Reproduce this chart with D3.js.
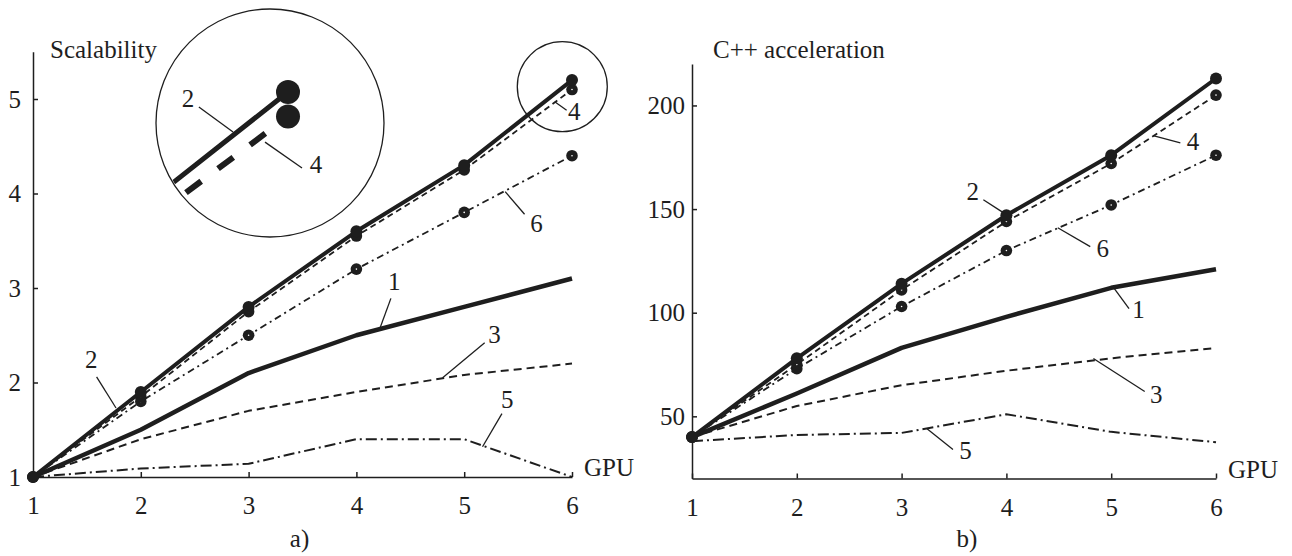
<!DOCTYPE html>
<html>
<head>
<meta charset="utf-8">
<script src="https://cdn.jsdelivr.net/npm/d3@7"></script>
<style>
body { margin:0; background:#fff; }
svg text { font-family: "Liberation Serif", serif; fill:#1e1e1e; }
</style>
</head>
<body>
<svg id="fig" width="1292" height="556"></svg>
<script>
// GPU count on x for both panels
var gpu = [1, 2, 3, 4, 5, 6];

// a) scalability, curves 1..6
var scal1 = [1, 1.5, 2.1, 2.5, 2.8, 3.1];
var scal2 = [1, 1.9, 2.8, 3.6, 4.3, 5.2];
var scal3 = [1, 1.4, 1.7, 1.9, 2.08, 2.2];
var scal4 = [1, 1.85, 2.75, 3.55, 4.25, 5.1];
var scal5 = [1, 1.09, 1.14, 1.4, 1.4, 1.0];
var scal6 = [1, 1.8, 2.5, 3.2, 3.8, 4.4];
var scalTicks = [1, 2, 3, 4, 5];

// b) acceleration vs C++, curves 1..6
var acc1 = [40, 61, 83, 98, 112, 121];
var acc2 = [40, 78, 114, 147, 176, 213];
var acc3 = [40, 55, 65, 72, 78, 83];
var acc4 = [40, 75, 111, 144, 172, 205];
var acc5 = [38, 41, 42, 51, 42.5, 37.5];
var acc6 = [40, 73, 103, 130, 152, 176];
var accTicks = [50, 100, 150, 200];

// curve labels: point on curve (px,py), leader end (lx,ly), text (tx,ty) in data units
var scalNotes = [
  {n: "2", px: 1.77, py: 1.73, lx: 1.59, ly: 2.06, tx: 1.54, ty: 2.15},
  {n: "1", px: 4.22, py: 2.58, lx: 4.32, ly: 2.89, tx: 4.35, ty: 2.98},
  {n: "3", px: 4.80, py: 2.05, lx: 5.19, ly: 2.42, tx: 5.28, ty: 2.42},
  {n: "5", px: 5.17, py: 1.32, lx: 5.35, ly: 1.67, tx: 5.40, ty: 1.73},
  {n: "6", px: 5.38, py: 4.02, lx: 5.56, ly: 3.78, tx: 5.67, ty: 3.59},
  {n: "4", px: 5.84, py: 4.97, lx: 5.95, ly: 4.88, tx: 6.02, ty: 4.78}
];
var accNotes = [
  {n: "2", px: 3.97, py: 148.3, lx: 3.78, ly: 154.5, tx: 3.68, ty: 154.5},
  {n: "4", px: 5.40, py: 185.4, lx: 5.66, ly: 182, tx: 5.78, ty: 178.6},
  {n: "6", px: 4.49, py: 141, lx: 4.80, ly: 131.9, tx: 4.92, ty: 127},
  {n: "1", px: 5.03, py: 111.6, lx: 5.17, ly: 102, tx: 5.26, ty: 97.6},
  {n: "3", px: 4.83, py: 77.9, lx: 5.32, ly: 62, tx: 5.43, ty: 56.6},
  {n: "5", px: 3.24, py: 44.1, lx: 3.49, ly: 34, tx: 3.61, ty: 29.2}
];
// labels inside the magnified view (same data units)
var zoomNotes = [
  {n: "2", px: 5.804, py: 5.037, lx: 5.682, ly: 5.139, tx: 5.643, ty: 5.139},
  {n: "4", px: 5.918, py: 4.996, lx: 6.05, ly: 4.891, tx: 6.10, ty: 4.870}
];

var ink = "#1e1e1e";
var fs = "25px";
var styles = {
  1: {w: 4.5, dash: null},
  2: {w: 4, dash: null, dot: 6},
  3: {w: 2, dash: "8,5"},
  4: {w: 1.8, dash: "6,4", dot: 5.8, hole: true},
  5: {w: 2, dash: "11,4,2,4"},
  6: {w: 1.8, dash: "7,4,2,4", dot: 5.8, hole: true}
};
var order = [5, 3, 1, 6, 4, 2];

var svg = d3.select("#fig");

function pairs(vals) {
  return vals.map(function (v, i) { return [gpu[i], v]; });
}

function drawNotes(g, notes, x, y) {
  notes.forEach(function (c) {
    g.append("line")
      .attr("x1", x(c.px)).attr("y1", y(c.py))
      .attr("x2", x(c.lx)).attr("y2", y(c.ly))
      .attr("stroke", ink).attr("stroke-width", 1.3);
    g.append("text")
      .attr("x", x(c.tx)).attr("y", y(c.ty))
      .attr("text-anchor", "middle")
      .style("font-size", fs)
      .text(c.n);
  });
}

function panel(opt) {
  var x = d3.scaleLinear().domain([1, 6]).range(opt.xr);
  var y = d3.scaleLinear().domain(opt.yd).range(opt.yr);
  var g = svg.append("g");

  var xAxis = d3.axisBottom(x).tickValues(gpu).tickSize(-5).tickSizeOuter(0).tickFormat(d3.format("d"));
  var yAxis = d3.axisLeft(y).tickValues(opt.ticks).tickSize(-5).tickSizeOuter(0).tickPadding(opt.pad).tickFormat(d3.format("d"));

  var gx = g.append("g")
    .attr("transform", "translate(0," + y(opt.yd[0]) + ")")
    .call(xAxis);
  gx.selectAll("text").attr("dy", null).attr("y", 37);

  var gy = g.append("g")
    .attr("transform", "translate(" + x(1) + ",0)")
    .call(yAxis);

  [gx, gy].forEach(function (a) {
    a.attr("font-family", null).attr("font-size", null);
    a.selectAll("path, line").attr("stroke", ink).attr("stroke-width", 1.5);
    a.selectAll("text").style("font-size", fs).attr("fill", ink);
  });

  g.append("text")
    .attr("x", x(1) + opt.titleDx).attr("y", 58)
    .style("font-size", fs)
    .text(opt.title);
  g.append("text")
    .attr("x", x(6) + 12).attr("y", y(opt.yd[0]) - 1)
    .style("font-size", fs)
    .text("GPU");
  g.append("text")
    .attr("x", (x(1) + x(6)) / 2 + opt.capDx).attr("y", 547)
    .attr("text-anchor", "middle")
    .style("font-size", fs)
    .text(opt.cap);

  var line = d3.line().x(function (d) { return x(d[0]); }).y(function (d) { return y(d[1]); });

  order.forEach(function (k) {
    var st = styles[k];
    var pts = pairs(opt.series[k]);
    g.append("path")
      .datum(pts)
      .attr("d", line)
      .attr("fill", "none")
      .attr("stroke", ink)
      .attr("stroke-width", st.w)
      .attr("stroke-dasharray", st.dash)
      .attr("stroke-linejoin", "round");
    if (st.dot) {
      g.selectAll(null).data(pts).enter().append("circle")
        .attr("cx", function (d) { return x(d[0]); })
        .attr("cy", function (d) { return y(d[1]); })
        .attr("r", st.dot)
        .attr("fill", ink);
      if (st.hole) {
        g.selectAll(null).data(pts).enter().append("circle")
          .attr("cx", function (d) { return x(d[0]); })
          .attr("cy", function (d) { return y(d[1]); })
          .attr("r", 0.8)
          .attr("fill", "#fff");
      }
    }
  });

  drawNotes(g, opt.notes, x, y);
  return {g: g, x: x, y: y};
}

var left = panel({
  xr: [33, 572], yd: [1, 5.5], yr: [477, 51.75], ticks: scalTicks, pad: 12,
  title: "Scalability", titleDx: 17, cap: "a)", capDx: -3,
  series: {1: scal1, 2: scal2, 3: scal3, 4: scal4, 5: scal5, 6: scal6},
  notes: scalNotes
});

var right = panel({
  xr: [692, 1216], yd: [20, 220], yr: [478.5, 64], ticks: accTicks, pad: 7,
  title: "C++ acceleration", titleDx: 21, cap: "b)", capDx: 13,
  series: {1: acc1, 2: acc2, 3: acc3, 4: acc4, 5: acc5, 6: acc6},
  notes: accNotes
});

// small circle around the end of curves 2 and 4
left.g.append("circle")
  .attr("cx", left.x(5.91)).attr("cy", left.y(5.13)).attr("r", 45)
  .attr("fill", "none").attr("stroke", ink).attr("stroke-width", 1.3);

// magnified view of that spot
var zb = {cx: 270, cy: 123, r: 114, ax: 288, ay: 92, k: 2.6};
var xI = d3.scaleLinear().domain(left.x.domain())
  .range(left.x.range().map(function (p) { return zb.ax + zb.k * (p - left.x(6)); }));
var yI = d3.scaleLinear().domain(left.y.domain())
  .range(left.y.range().map(function (p) { return zb.ay + zb.k * (p - left.y(scal2[5])); }));

svg.append("defs").append("clipPath").attr("id", "zoomclip")
  .append("circle").attr("cx", zb.cx).attr("cy", zb.cy).attr("r", zb.r - 1);

var inset = svg.append("g");
inset.append("circle")
  .attr("cx", zb.cx).attr("cy", zb.cy).attr("r", zb.r)
  .attr("fill", "#fff").attr("stroke", ink).attr("stroke-width", 1.3);

var zin = inset.append("g").attr("clip-path", "url(#zoomclip)");
var lineI = d3.line().x(function (d) { return xI(d[0]); }).y(function (d) { return yI(d[1]); });
[[scal4, 6, "19,21"], [scal2, 5, null]].forEach(function (s) {
  var pts = pairs(s[0]);
  zin.append("path").datum(pts).attr("d", lineI)
    .attr("fill", "none").attr("stroke", ink)
    .attr("stroke-width", s[1]).attr("stroke-dasharray", s[2]);
  zin.selectAll(null).data(pts).enter().append("circle")
    .attr("cx", function (d) { return xI(d[0]); })
    .attr("cy", function (d) { return yI(d[1]); })
    .attr("r", 12).attr("fill", ink);
});
drawNotes(inset, zoomNotes, xI, yI);
</script>
</body>
</html>
